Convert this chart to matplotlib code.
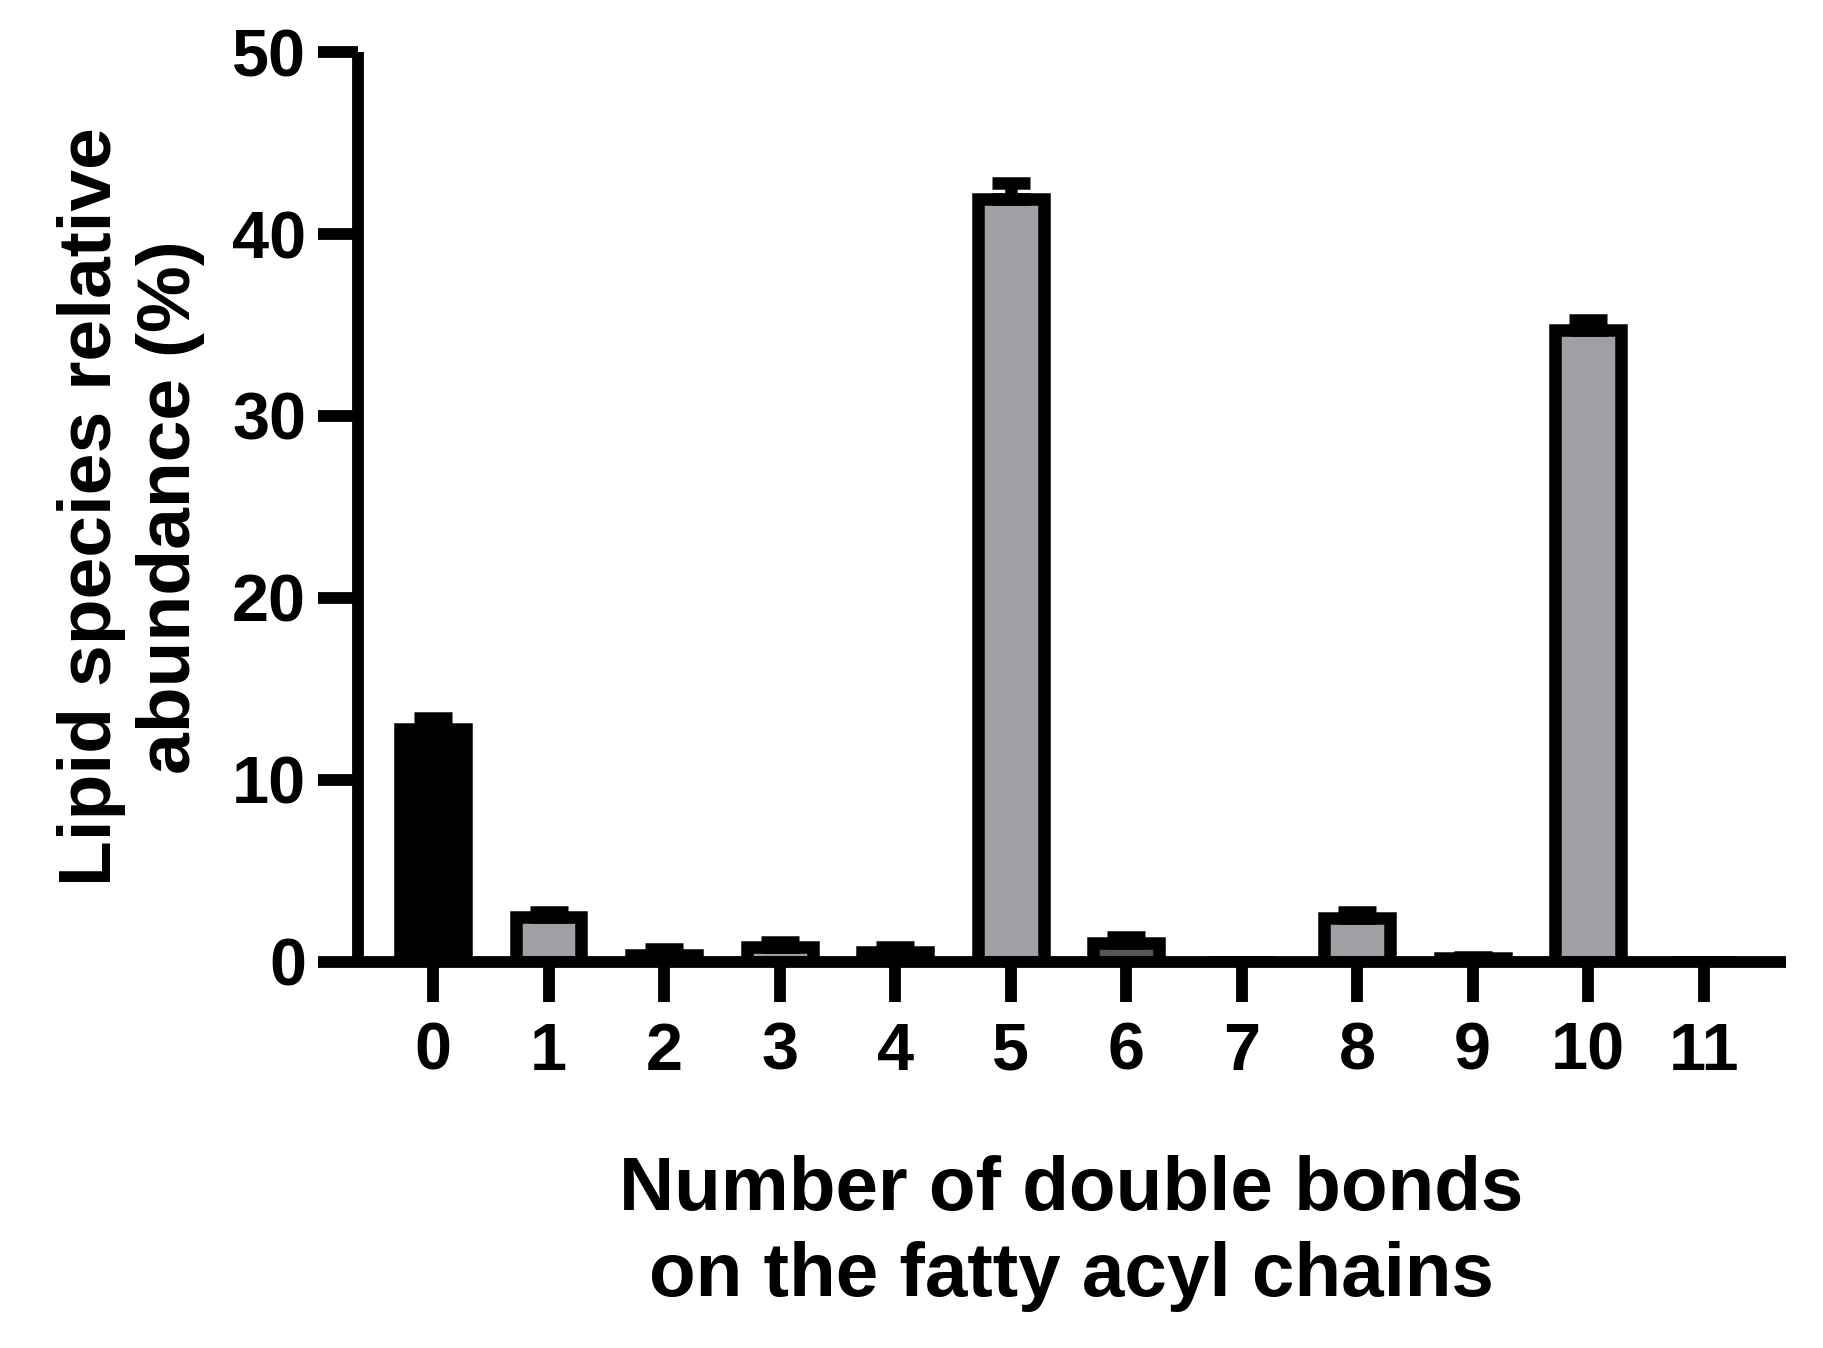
import matplotlib
matplotlib.use("Agg")
import matplotlib.pyplot as plt
import numpy as np

categories = ["0", "1", "2", "3", "4", "5", "6", "7", "8", "9", "10", "11"]
values = [12.8, 2.45, 0.4, 0.8, 0.55, 41.9, 1.05, 0.0, 2.4, 0.2, 34.7, 0.0]
errors = [0.6, 0.3, 0.3, 0.3, 0.28, 0.9, 0.3, 0.0, 0.35, 0.05, 0.6, 0.0]
fill_colors = ["#000000", "#A09FA4", "#A09FA4", "#A09FA4", "#A09FA4", "#A09FA4",
               "#58565A", "#A09FA4", "#A09FA4", "#A09FA4", "#A09FA4", "#A09FA4"]
yticks = [0, 10, 20, 30, 40, 50]
xlabel = "Number of double bonds\non the fatty acyl chains"
ylabel = "Lipid species relative\nabundance (%)"

plt.rcParams['font.family'] = ['Liberation Sans', 'DejaVu Sans']
plt.rcParams['font.weight'] = 'bold'

fig = plt.figure(figsize=(18.24, 13.48), dpi=100)
ax = fig.add_axes([0.196, 0.2864, 0.783, 0.675])

x = np.arange(len(categories))
lw = 9
ax.bar(x, values, width=0.57, color=fill_colors, edgecolor="black",
       linewidth=lw, zorder=2)
ax.errorbar(x, values, yerr=[np.zeros(len(errors)), errors], fmt="none",
            ecolor="black", elinewidth=lw, capsize=14, capthick=lw, zorder=3)

ax.set_xlim(-0.654, 11.71)
ax.set_ylim(0, 50)
ax.set_yticks(yticks)
ax.set_xticks(x)
ax.set_xticklabels(categories)

for s in ["top", "right"]:
    ax.spines[s].set_visible(False)
for s in ["left", "bottom"]:
    ax.spines[s].set_linewidth(8.5)
    ax.spines[s].set_zorder(5)
    ax.spines[s].set_capstyle("butt")

ax.tick_params(axis="both", which="major", direction="out", length=29,
               width=8.5, labelsize=48, color="black")
ax.tick_params(axis="x", pad=14)
ax.tick_params(axis="y", pad=8)
for lab in ax.get_xticklabels() + ax.get_yticklabels():
    lab.set_fontweight("bold")

ax.set_xlabel(xlabel, fontsize=55, fontweight="bold", linespacing=1.27)
ax.xaxis.set_label_coords(0.5, -0.212)
ax.set_ylabel(ylabel, fontsize=54, fontweight="bold", linespacing=1.18)
ax.yaxis.set_label_coords(-0.107, 0.5)

fig.savefig("out.png", dpi=100)
